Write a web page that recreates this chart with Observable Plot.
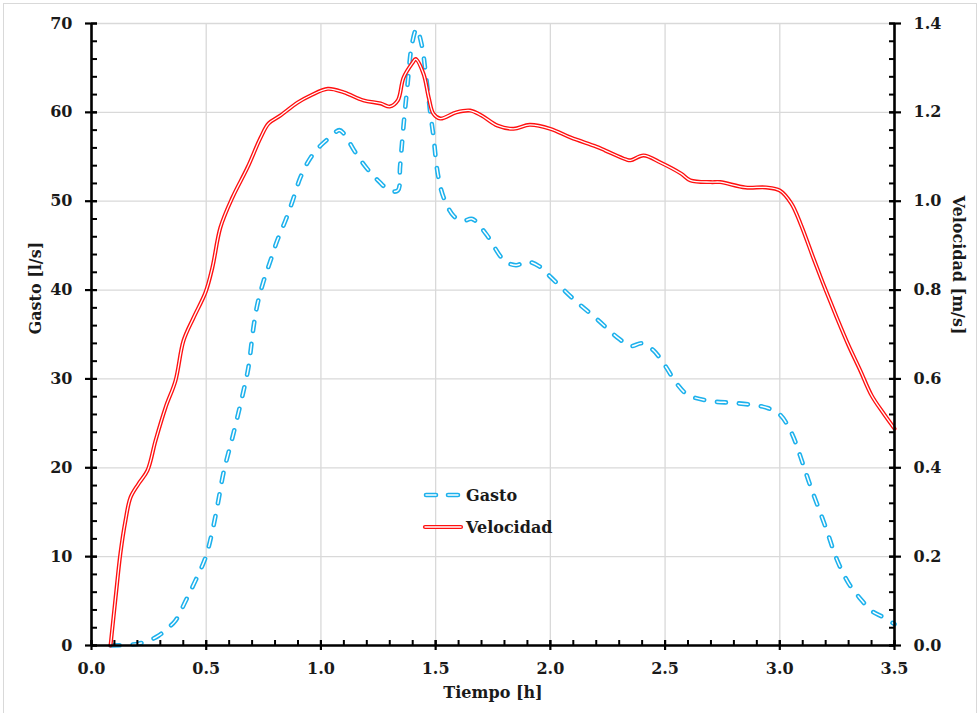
<!DOCTYPE html>
<html><head><meta charset="utf-8">
<script src="https://cdn.jsdelivr.net/npm/d3@7"></script>
<script src="https://cdn.jsdelivr.net/npm/@observablehq/plot@0.6"></script>
<style>
body{margin:0;background:#fff;}
#wrap{position:relative;width:980px;height:713px;overflow:hidden;}
#border{position:absolute;left:3px;top:3px;width:974px;height:720px;border:1px solid #d9d9d9;box-sizing:border-box;pointer-events:none;}
#legend{position:absolute;left:0;top:0;pointer-events:none;}
</style>
</head><body>
<div id="wrap"><div id="border"></div></div>
<script>
// ---- data ----
const tGasto = [0.083,0.15,0.205,0.25,0.292,0.33,0.366,0.41,0.453,0.497,0.527,0.553,0.575,0.62,0.663,0.684,0.706,0.724,0.75,0.78,0.81,0.845,0.876,0.911,0.955,1.0,1.04,1.08,1.1,1.15,1.2,1.25,1.3,1.335,1.345,1.36,1.377,1.397,1.417,1.44,1.456,1.477,1.49,1.51,1.535,1.58,1.62,1.66,1.72,1.8,1.85,1.9,1.95,2.0,2.1,2.2,2.3,2.35,2.4,2.45,2.5,2.55,2.6,2.7,2.8,2.9,2.95,3.0,3.05,3.1,3.13,3.2,3.25,3.3,3.35,3.4,3.45,3.5];
const gasto  = [0,0.05,0.2,0.55,1.1,1.9,2.8,5.0,7.3,9.9,12.9,16.3,19.4,24,28.7,31.3,35.8,38.5,41,43.3,45.6,47.8,50,52.7,54.9,56.3,57.2,58,57.6,55.5,53.7,52.3,51.2,51.2,53.9,58.5,63,67.7,69.4,67.5,64.5,59.9,57.4,53,50.4,48.3,47.8,48,46.3,43.3,42.8,43.2,42.7,41.5,39,36.8,34.5,33.7,34,33.2,31.5,29.5,28.2,27.5,27.3,27,26.7,26,24,20.5,18.2,13.3,9.6,7.0,5.3,3.9,3.2,2.4];
const tVel = [0.083,0.105,0.126,0.148,0.17,0.205,0.244,0.279,0.323,0.366,0.401,0.445,0.497,0.527,0.562,0.614,0.68,0.737,0.772,0.824,0.898,0.955,1.03,1.1,1.185,1.26,1.3,1.335,1.36,1.4,1.413,1.447,1.47,1.49,1.52,1.59,1.65,1.7,1.77,1.84,1.91,2.0,2.09,2.2,2.24,2.33,2.35,2.406,2.48,2.57,2.61,2.7,2.74,2.85,2.94,3.0,3.05,3.09,3.15,3.2,3.25,3.3,3.35,3.4,3.45,3.5];
const velocidad = [0,0.108,0.207,0.281,0.333,0.364,0.394,0.461,0.536,0.596,0.686,0.738,0.795,0.851,0.941,1.008,1.076,1.143,1.175,1.193,1.222,1.238,1.253,1.245,1.227,1.22,1.213,1.227,1.278,1.312,1.32,1.287,1.233,1.197,1.186,1.2,1.204,1.193,1.17,1.163,1.172,1.163,1.143,1.123,1.114,1.094,1.092,1.103,1.087,1.062,1.047,1.043,1.043,1.031,1.031,1.024,0.995,0.95,0.867,0.8,0.736,0.675,0.62,0.563,0.524,0.488];

const xTicks = [0,0.5,1,1.5,2,2.5,3,3.5];
const xTickLabels = ["0.0","0.5","1.0","1.5","2.0","2.5","3.0","3.5"];
const yTicks = [0,10,20,30,40,50,60,70];
const yTickLabels = ["0","10","20","30","40","50","60","70"];
const vTicks = [0,0.2,0.4,0.6,0.8,1.0,1.2,1.4];
const vTickLabels = ["0.0","0.2","0.4","0.6","0.8","1.0","1.2","1.4"];
const xMinor = d3.range(0,36).map(i=>i/10);
const yMinor = d3.range(0,36).map(i=>i*2);
const seriesNames = ["Gasto","Velocidad"];
const titles = {x:"Tiempo [h]", y:"Gasto [l/s]", y2:"Velocidad [m/s]"};
const vFactor = 70/1.4;

const gRows = tGasto.map((t,i)=>({t, v:gasto[i]}));
const vRows = tVel.map((t,i)=>({t, v:velocidad[i]*vFactor}));

const blue = "#1db1ec", red = "#ff1010";
const dash = "9,13";
const curve = "catmull-rom";

const chart = Plot.plot({
  width: 980, height: 713,
  marginLeft: 91, marginRight: 86, marginTop: 23, marginBottom: 68,
  x: {domain:[0,3.5]},
  y: {domain:[0,70]},
  style: {fontFamily:"'DejaVu Serif', serif", fontWeight:"bold", fontSize:"16px", color:"#1a1a1a", background:"transparent"},
  marks: [
    Plot.gridX(xTicks, {stroke:"#d9d9d9", strokeOpacity:1, strokeWidth:1.3}),
    Plot.gridY(yTicks, {stroke:"#d9d9d9", strokeOpacity:1, strokeWidth:1.3}),
    Plot.line(gRows, {x:"t", y:"v", curve, stroke:blue, strokeWidth:4.6, strokeDasharray:dash, strokeLinecap:"round"}),
    Plot.line(gRows, {x:"t", y:"v", curve, stroke:"white", strokeWidth:1.5, strokeDasharray:dash, strokeLinecap:"round"}),
    Plot.line(vRows, {x:"t", y:"v", curve, stroke:red, strokeWidth:4}),
    Plot.line(vRows, {x:"t", y:"v", curve, stroke:"white", strokeWidth:1.3}),
    // axis lines
    Plot.ruleX([0,3.5], {stroke:"black", strokeWidth:2.6}),
    Plot.ruleY([0], {stroke:"black", strokeWidth:2.6}),
    // ticks
    Plot.axisX(xTicks, {tickSize:10, dy:-5, fill:"none", stroke:"black", strokeWidth:2.2, label:null}),
    Plot.axisX(xMinor, {tickSize:5, dy:-5, fill:"none", stroke:"black", strokeWidth:2, label:null}),
    Plot.axisY(yTicks, {anchor:"left", tickSize:12, dx:6, fill:"none", stroke:"black", strokeWidth:2.2, label:null}),
    Plot.axisY(yMinor, {anchor:"left", tickSize:6, dx:6, fill:"none", stroke:"black", strokeWidth:2, label:null}),
    Plot.axisY(yTicks, {anchor:"right", tickSize:12, dx:-6, fill:"none", stroke:"black", strokeWidth:2.2, label:null}),
    Plot.axisY(yMinor, {anchor:"right", tickSize:6, dx:-6, fill:"none", stroke:"black", strokeWidth:2, label:null}),
    // tick labels
    Plot.axisX(xTicks, {tickSize:0, tickPadding:17, tickFormat:(d,i)=>xTickLabels[i], label:null}),
    Plot.axisY(yTicks, {anchor:"left", tickSize:0, tickPadding:19, tickFormat:(d,i)=>yTickLabels[i], label:null}),
    Plot.axisY(vTicks.map(d=>d*vFactor), {anchor:"right", tickSize:0, tickPadding:19, tickFormat:(d,i)=>vTickLabels[i], label:null}),
    // titles
    Plot.text([titles.y], {text:d=>d, frameAnchor:"left", dx:-56, rotate:-90, fontSize:16}),
    Plot.text([titles.y2], {text:d=>d, frameAnchor:"right", dx:64, rotate:90, fontSize:16}),
    Plot.text([titles.x], {text:d=>d, frameAnchor:"bottom", dy:52, fontSize:16})
  ]
});
const wrap = document.getElementById("wrap");
wrap.insertBefore(chart, wrap.firstChild);

// legend overlay
const lg = d3.select(wrap).append("svg").attr("id","legend").attr("width",980).attr("height",713)
  .style("font-family","'DejaVu Serif', serif").style("font-weight","bold").style("font-size","16px");
const items = [
  {name:seriesNames[0], color:blue, dash:true, y:495},
  {name:seriesNames[1], color:red, dash:false, y:527}
];
items.forEach(it=>{
  if (it.dash) {
    lg.append("line").attr("x1",426).attr("x2",458).attr("y1",it.y).attr("y2",it.y)
      .attr("stroke",it.color).attr("stroke-width",4.6).attr("stroke-linecap","round").attr("stroke-dasharray","10,12");
    lg.append("line").attr("x1",426).attr("x2",458).attr("y1",it.y).attr("y2",it.y)
      .attr("stroke","white").attr("stroke-width",1.5).attr("stroke-linecap","round").attr("stroke-dasharray","10,12");
  } else {
    lg.append("line").attr("x1",425).attr("x2",461).attr("y1",it.y).attr("y2",it.y)
      .attr("stroke",it.color).attr("stroke-width",4.2).attr("stroke-linecap","round");
    lg.append("line").attr("x1",425).attr("x2",461).attr("y1",it.y).attr("y2",it.y)
      .attr("stroke","white").attr("stroke-width",1.4).attr("stroke-linecap","round");
  }
  lg.append("text").attr("x",466).attr("y",it.y+6).attr("fill","#1a1a1a").text(it.name);
});
</script>
</body></html>
